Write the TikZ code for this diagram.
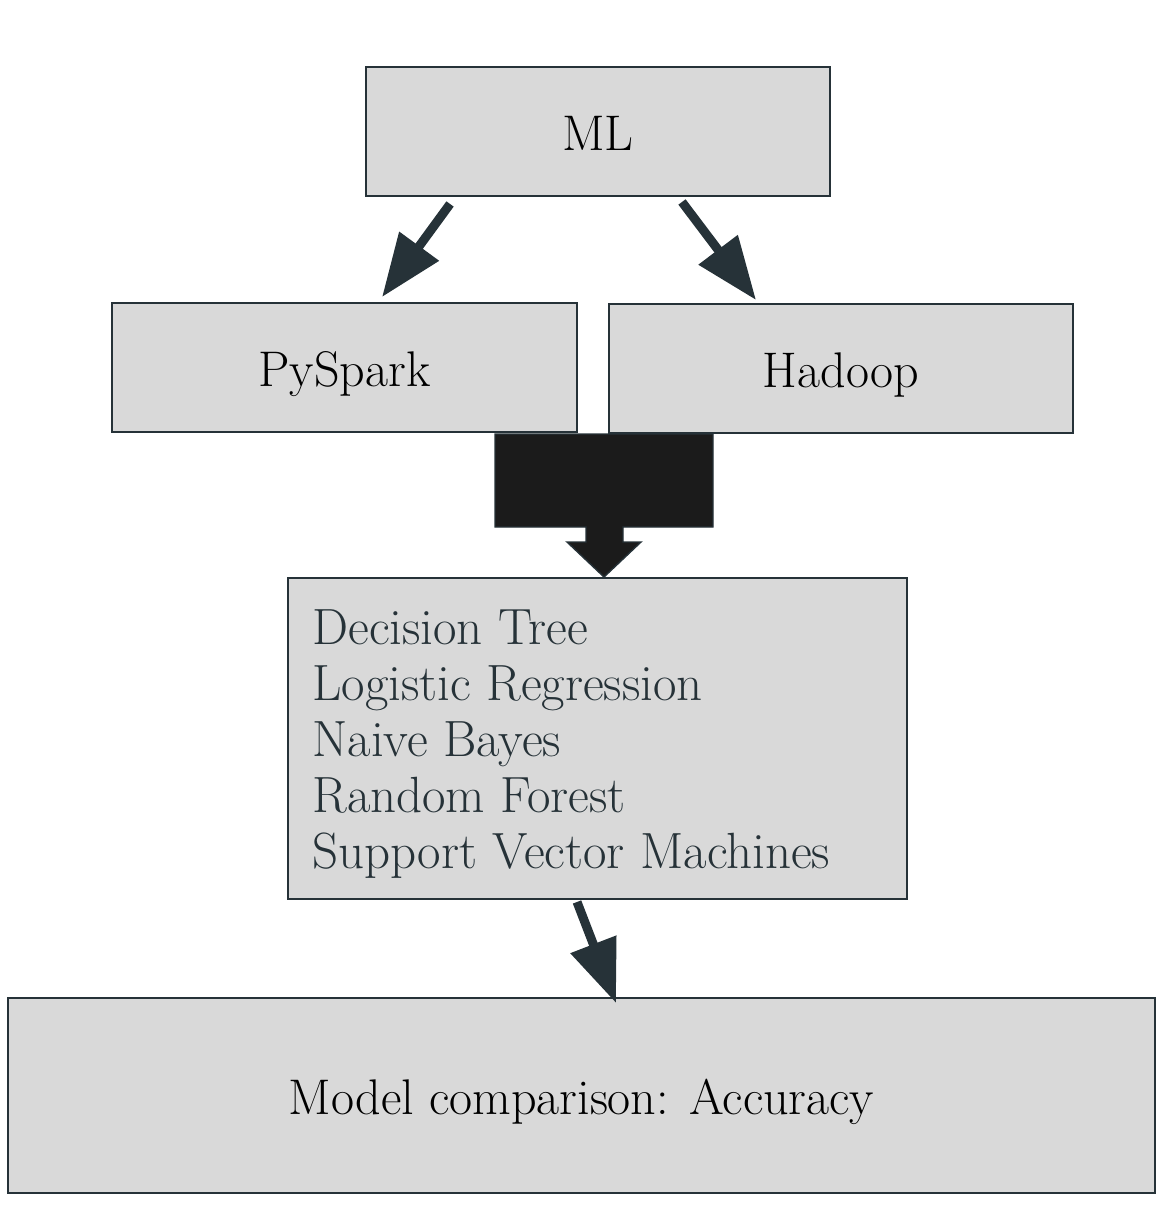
\documentclass[tikz,border=0pt]{standalone}
\usetikzlibrary{calc}
\usetikzlibrary{arrows.meta}
\definecolor{slate}{HTML}{263238}
\definecolor{boxgray}{HTML}{D9D9D9}
\definecolor{blockblack}{HTML}{1B1B1B}
\tikzset{
  flowbox/.style={draw=slate, fill=boxgray, line width=1.1pt, inner sep=0pt,
    text height=0.95cm, text depth=0.2cm,
    font=\fontsize{28.5}{33}\selectfont},
  fatarrow/.style={draw=slate, line width=0.18cm,
    -{Triangle[length=1.26cm 0, width=0.94cm 0]}},
}

\begin{document}
\begin{tikzpicture}[]
        % 画布范围
        \useasboundingbox (0,0) rectangle (23.4,-24.16);
        % 三个上层方框
        \node [flowbox, minimum width=9.28cm, minimum height=2.58cm] (ml) at (11.96,-2.63) {ML};
        \node [flowbox, minimum width=9.3cm, minimum height=2.58cm] (pyspark) at (6.89,-7.35) {PySpark};
        \node [flowbox, minimum width=9.28cm, minimum height=2.58cm] (hadoop) at (16.82,-7.37) {Hadoop};
        % 算法方框及列表
        \node [flowbox, minimum width=12.38cm, minimum height=6.42cm] (algo) at (11.95,-14.77) {};
        \node [anchor=north west, inner sep=0pt, align=left, text=slate,
          font=\fontsize{29}{31.9}\selectfont] (algolist) at (6.24,-12.19)
          {Decision Tree\\Logistic Regression\\Naive Bayes\\Random Forest\\Support Vector Machines};
        % 底部方框
        \node [flowbox, minimum width=22.94cm, minimum height=3.9cm] (model) at (11.63,-21.91) {Model comparison: Accuracy};
        % 箭头
        \draw [fatarrow] ([shift={(1.7,-0.14)}]ml.south west) -- ([shift={(5.42,0.1)}]pyspark.north west);
        \draw [fatarrow] ([shift={(-2.98,-0.1)}]ml.south east) -- ([shift={(2.96,0.06)}]hadoop.north west);
        \draw [fatarrow] ([shift={(5.8,-0.04)}]algo.south west) -- ([shift={(12.18,-0.12)}]model.north west);
        % 黑色块箭头
        \draw [draw=slate, fill=blockblack, line width=0.8pt]
          (9.9,-8.68) -- (14.26,-8.68) -- (14.26,-10.54) -- (12.46,-10.54) -- (12.46,-10.84)
          -- (12.82,-10.84) -- (12.08,-11.54) -- (11.34,-10.84) -- (11.72,-10.84)
          -- (11.72,-10.54) -- (9.9,-10.54) -- cycle;

    \end{tikzpicture}
\end{document}
